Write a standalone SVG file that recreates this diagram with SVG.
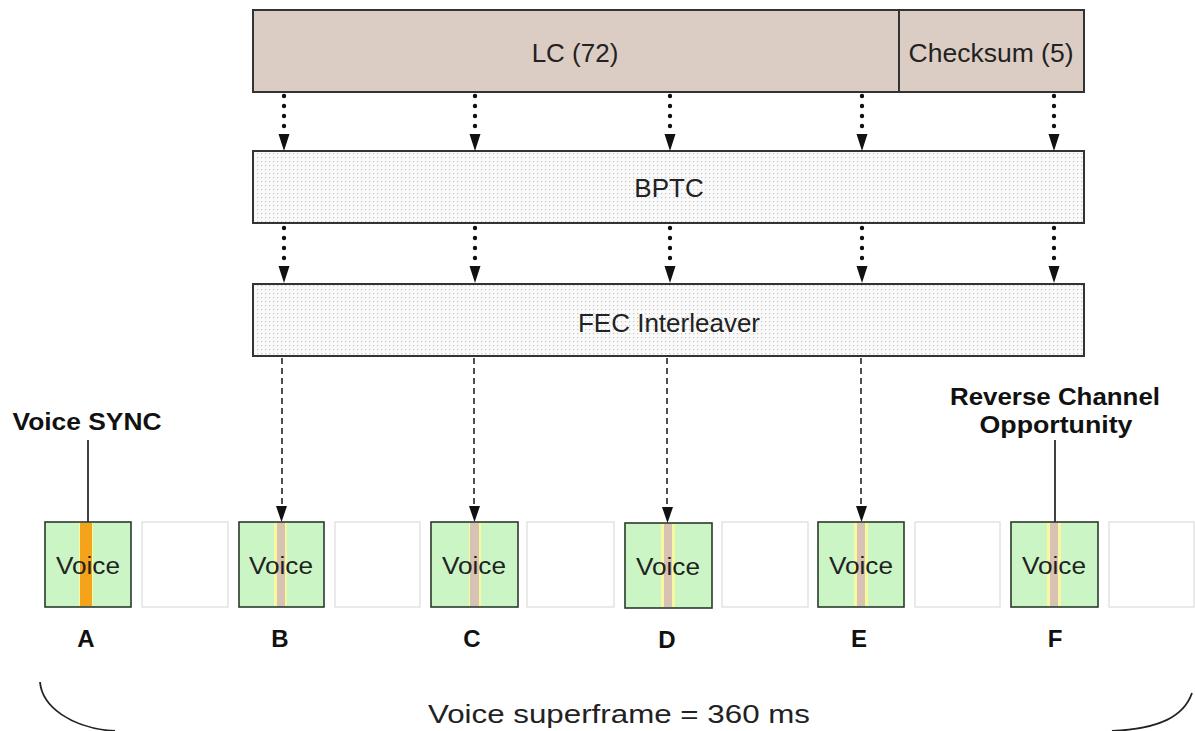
<svg xmlns="http://www.w3.org/2000/svg" width="1195" height="731" viewBox="0 0 1195 731">
<style>
.t{font-family:"Liberation Sans",Arial,sans-serif;fill:#222}
.b{font-family:"Liberation Sans",Arial,sans-serif;font-weight:bold;fill:#111}
.dot{stroke:#111;stroke-width:4.4;stroke-linecap:round;stroke-dasharray:0 10;fill:none}
.dash{stroke:#222;stroke-width:1.6;stroke-dasharray:6 4;fill:none}
.head{fill:#111}
.voice{fill:#ccf5c6;stroke:#2a3a2a;stroke-width:1.6}
.empty{fill:#fff;stroke:#dcdcdc;stroke-width:1.2}
.stripe{fill:#d7c2b4}
.edge{fill:#f8f8a0}
.proc{fill:url(#dots);stroke:#333;stroke-width:2}
</style>
<defs>
<pattern id="dots" width="4" height="4" patternUnits="userSpaceOnUse">
<rect width="4" height="4" fill="#fafafa"/>
<rect x="1" y="1" width="1.2" height="1.2" fill="#c4c4c4"/>
</pattern>
</defs>
<rect width="1195" height="731" fill="#fff"/>

<g id="lc">
<rect x="253" y="10" width="831" height="82" fill="#dccdc4" stroke="#333" stroke-width="2"/>
<line x1="899" y1="10" x2="899" y2="92" stroke="#333" stroke-width="2"/>
<text class="t" x="575" y="62" font-size="26" text-anchor="middle">LC (72)</text>
<text class="t" x="991" y="62" font-size="26" text-anchor="middle" textLength="165" lengthAdjust="spacingAndGlyphs">Checksum (5)</text>
</g>

<g id="bptc">
<rect x="253" y="151" width="831" height="72" class="proc"/>
<text class="t" x="669" y="197" font-size="26" text-anchor="middle">BPTC</text>
</g>

<g id="fec">
<rect x="253" y="284" width="831" height="72" class="proc"/>
<text class="t" x="669" y="332" font-size="26" text-anchor="middle">FEC Interleaver</text>
</g>

<g id="connectors">
<g>
<path class="dot" d="M284 96V136M475 96V136M670 96V136M862 96V136M1054 96V136"/>
<path class="head" d="M278.5 134h11l-5.5 17zM469.5 134h11l-5.5 17zM664.5 134h11l-5.5 17zM856.5 134h11l-5.5 17zM1048.5 134h11l-5.5 17z"/>
<path class="dot" d="M284 228V268M475 228V268M670 228V268M862 228V268M1054 228V268"/>
<path class="head" d="M278.5 266h11l-5.5 17zM469.5 266h11l-5.5 17zM664.5 266h11l-5.5 17zM856.5 266h11l-5.5 17zM1048.5 266h11l-5.5 17z"/>
</g>
<path class="dash" d="M282 358V507M474 358V507M667 358V508M861 358V507"/>
<path class="head" d="M276 506h11l-5.5 16zM469 506h11l-5.5 16zM662 507h11l-5.5 16zM856 506h11l-5.5 16z"/>
<line x1="88" y1="440" x2="88" y2="522" stroke="#111" stroke-width="1.6"/>
<line x1="1055" y1="440" x2="1055" y2="522" stroke="#111" stroke-width="1.6"/>
<path d="M40 682C42 706 70 728 115 731" fill="none" stroke="#222" stroke-width="1.8"/>
<path d="M1192 693C1184 716 1160 729 1112 731" fill="none" stroke="#222" stroke-width="1.8"/>
</g>

<g id="slotA">
<rect class="voice" x="45" y="522" width="86" height="85"/>
<rect class="edge" x="79" y="523" width="14" height="83"/>
<rect x="80" y="523" width="12" height="83" fill="#f5a31b"/>
<text class="t" x="88" y="574" font-size="23" text-anchor="middle" textLength="64" lengthAdjust="spacingAndGlyphs">Voice</text>
<text class="b" x="86" y="647" font-size="24" text-anchor="middle">A</text>
</g>
<g id="emptyA"><rect class="empty" x="142" y="522" width="86" height="85"/></g>

<g id="slotB">
<rect class="voice" x="239" y="522" width="85" height="85"/>
<rect class="edge" x="274" y="523" width="13" height="83"/>
<rect class="stripe" x="277" y="523" width="8" height="83"/>
<text class="t" x="281" y="574" font-size="23" text-anchor="middle" textLength="64" lengthAdjust="spacingAndGlyphs">Voice</text>
<text class="b" x="280" y="647" font-size="24" text-anchor="middle">B</text>
</g>
<g id="emptyB"><rect class="empty" x="335" y="522" width="85" height="85"/></g>

<g id="slotC">
<rect class="voice" x="431" y="522" width="87" height="85"/>
<rect class="edge" x="469" y="523" width="12" height="83"/>
<rect class="stripe" x="470" y="523" width="9" height="83"/>
<text class="t" x="474" y="574" font-size="23" text-anchor="middle" textLength="64" lengthAdjust="spacingAndGlyphs">Voice</text>
<text class="b" x="472" y="647" font-size="24" text-anchor="middle">C</text>
</g>
<g id="emptyC"><rect class="empty" x="527" y="522" width="87" height="85"/></g>

<g id="slotD">
<rect class="voice" x="625" y="523" width="87" height="85"/>
<rect class="edge" x="661" y="524" width="14" height="83"/>
<rect class="stripe" x="664" y="524" width="8" height="83"/>
<text class="t" x="668" y="575" font-size="23" text-anchor="middle" textLength="64" lengthAdjust="spacingAndGlyphs">Voice</text>
<text class="b" x="667" y="648" font-size="24" text-anchor="middle">D</text>
</g>
<g id="emptyD"><rect class="empty" x="722" y="522" width="86" height="85"/></g>

<g id="slotE">
<rect class="voice" x="818" y="522" width="86" height="85"/>
<rect class="edge" x="854" y="523" width="14" height="83"/>
<rect class="stripe" x="857" y="523" width="8" height="83"/>
<text class="t" x="861" y="574" font-size="23" text-anchor="middle" textLength="64" lengthAdjust="spacingAndGlyphs">Voice</text>
<text class="b" x="859" y="647" font-size="24" text-anchor="middle">E</text>
</g>
<g id="emptyE"><rect class="empty" x="915" y="522" width="85" height="85"/></g>

<g id="slotF">
<rect class="voice" x="1011" y="522" width="87" height="85"/>
<rect class="edge" x="1047" y="523" width="14" height="83"/>
<rect class="stripe" x="1050" y="523" width="8" height="83"/>
<text class="t" x="1054" y="574" font-size="23" text-anchor="middle" textLength="64" lengthAdjust="spacingAndGlyphs">Voice</text>
<text class="b" x="1055" y="647" font-size="24" text-anchor="middle">F</text>
</g>
<g id="emptyF"><rect class="empty" x="1109" y="522" width="85" height="85"/></g>

<g id="voice-sync-label">
<text class="b" x="87" y="430" font-size="23" text-anchor="middle" textLength="149" lengthAdjust="spacingAndGlyphs">Voice SYNC</text>
</g>
<g id="reverse-channel-label">
<text class="b" x="1055" y="405" font-size="23" text-anchor="middle" textLength="210" lengthAdjust="spacingAndGlyphs">Reverse Channel</text>
<text class="b" x="1056" y="433" font-size="23" text-anchor="middle" textLength="153" lengthAdjust="spacingAndGlyphs">Opportunity</text>
</g>
<g id="superframe-label">
<text class="t" x="619" y="723" font-size="25" text-anchor="middle" textLength="382" lengthAdjust="spacingAndGlyphs">Voice superframe = 360 ms</text>
</g>
</svg>
